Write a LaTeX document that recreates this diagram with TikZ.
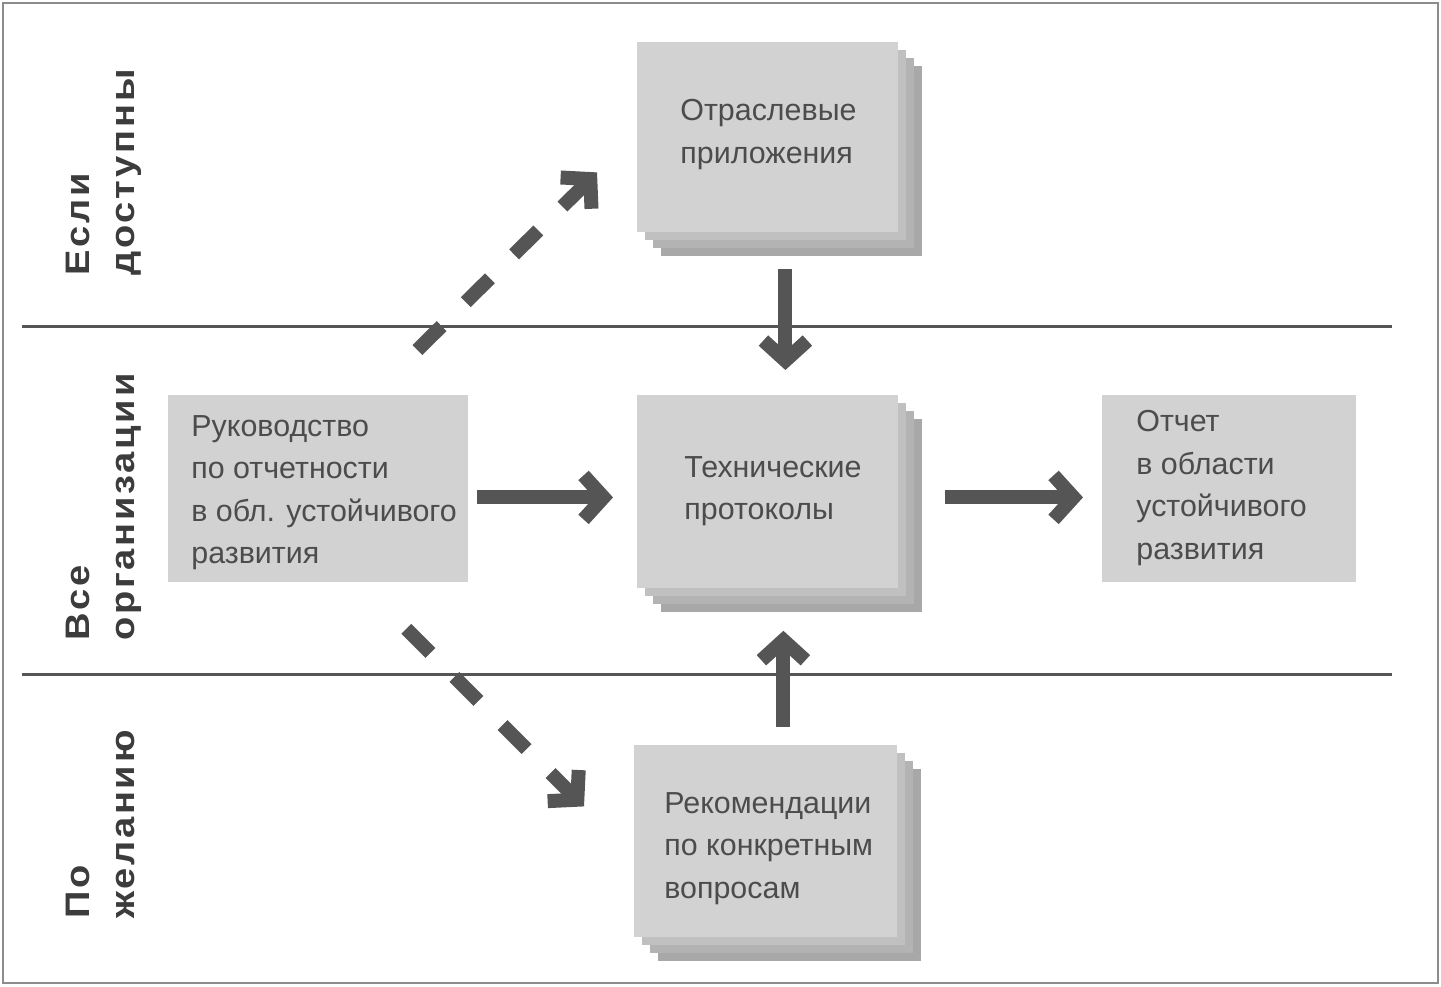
\documentclass[tikz,border=0pt]{standalone}
\usepackage{fontspec}
\setmainfont{Liberation Sans}
\newfontfamily\sidefont[LetterSpace=8, FakeStretch=1.12]{Liberation Sans}
\usetikzlibrary{arrows.meta,shadows}
\definecolor{ink}{HTML}{4C4C4C}
\definecolor{sideink}{HTML}{3C3C3C}
\definecolor{arrowgray}{HTML}{555555}
\definecolor{boxfill}{HTML}{D2D2D2}
\definecolor{layerA}{HTML}{C0C0C0}
\definecolor{layerB}{HTML}{B3B3B3}
\definecolor{layerC}{HTML}{A8A8A8}
\tikzset{
  plainbox/.style={anchor=north west, inner sep=0pt, fill=boxfill, draw=none},
  stackbox/.style={plainbox,
    copy shadow={shadow xshift=12pt, shadow yshift=-12pt, fill=layerC, draw=none},
    copy shadow={shadow xshift=8pt, shadow yshift=-8pt, fill=layerB, draw=none},
    copy shadow={shadow xshift=4pt, shadow yshift=-4pt, fill=layerA, draw=none}},
  boxtext/.style={anchor=north west, inner sep=0pt, align=left, text=ink,
    font=\fontsize{15.2}{21.25}\selectfont},
  sidelabel/.style={anchor=north west, inner sep=0pt, align=left, rotate=90,
    text=sideink, font=\sidefont\bfseries\fontsize{17}{22.5}\selectfont},
  arr/.style={draw=arrowgray, line width=7pt,
    -{Straight Barb[length=10pt, width=22pt]}},
  dasharr/.style={arr, dash pattern=on 17pt off 17pt},
  sepline/.style={draw=arrowgray, line width=1.5pt},
  frameline/.style={draw=black!45, line width=1pt}
}
\begin{document}
\begin{tikzpicture}[x=0.5pt, y=-0.5pt]
\useasboundingbox (0,0) rectangle (1441,986);
\fill[white] (0,0) rectangle (1441,986);
\draw[frameline] (3,3) rectangle (1438,983);

% separator lines
\draw[sepline] (22,326) -- (1392,326);
\draw[sepline] (22,674) -- (1392,674);

% side labels
\node[sidelabel] (lab1) at (66,276) {Если\\доступны};
\node[sidelabel] (lab2) at (66,641) {Все\\организации};
\node[sidelabel] (lab3) at (66,919) {По\\желанию};

% boxes
\node[stackbox, minimum width=130.5pt, minimum height=95pt] (ind) at (637,42) {};
\node[stackbox, minimum width=130.5pt, minimum height=96.5pt] (tech) at (637,395) {};
\node[stackbox, minimum width=131.5pt, minimum height=96pt] (rec) at (634,745) {};
\node[plainbox, minimum width=150pt, minimum height=93.5pt] (guide) at (168,395) {};
\node[plainbox, minimum width=127pt, minimum height=93.5pt] (report) at (1102,395) {};

% texts
\node[boxtext] (indt) at (680,99) {Отраслевые\\приложения};
\node[boxtext] (techt) at (684,456) {Технические\\протоколы};
\node[boxtext] (rect) at (664,792) {Рекомендации\\по конкретным\\вопросам};
\node[boxtext] (guidet) at (191,415) {Руководство\\по отчетности\\в обл. устойчивого\\развития};
\node[boxtext] (reportt) at (1136,410) {Отчет\\в области\\устойчивого\\развития};

% arrows
\draw[arr] ([shift={(17.5,36)}]ind.south) -- ([shift={(17.5,-25)}]tech.north);
\draw[arr] ([shift={(8,8.5)}]guide.east) -- ([shift={(-24,5.5)}]tech.west);
\draw[arr] ([shift={(46,5.5)}]tech.east) -- ([shift={(-19,8.5)}]report.west);
\draw[arr] ([shift={(17.5,-18)}]rec.north) -- ([shift={(15.5,42)}]tech.south);
\draw[dasharr] ([shift={(99,-45)}]guide.north) -- ([shift={(-40,35)}]ind.west);
\draw[dasharr] ([shift={(88,46)}]guide.south) -- ([shift={(-50,-35)}]rec.west);
\end{tikzpicture}
\end{document}
